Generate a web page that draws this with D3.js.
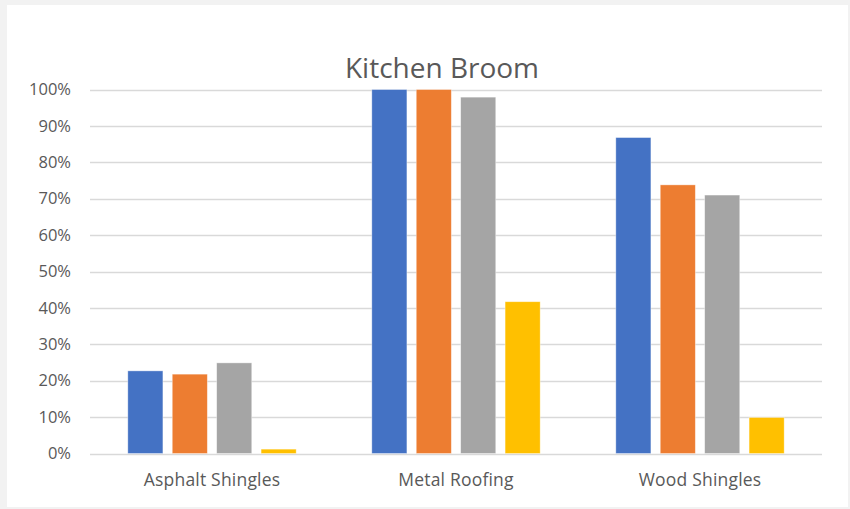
<!DOCTYPE html>
<html><head><meta charset="utf-8">
<script src="https://cdn.jsdelivr.net/npm/d3@7"></script>
<style>html,body{margin:0;padding:0;background:#f2f2f2;}svg{display:block;}</style>
</head><body>
<svg id="chart" width="850" height="509"></svg>
<script>
const categories = ["Asphalt Shingles", "Metal Roofing", "Wood Shingles"];
const seriesNames = ["Series1", "Series2", "Series3", "Series4"];
const series1 = [22.7, 100, 86.8];
const series2 = [21.8, 100, 73.8];
const series3 = [24.9, 97.9, 71.0];
const series4 = [1.2, 41.7, 9.9];
const yTicks = [0, 10, 20, 30, 40, 50, 60, 70, 80, 90, 100];
const colors = ["#4472C4", "#ED7D31", "#A5A5A5", "#FFC000"];
const title = "Kitchen Broom";

const allSeries = [series1, series2, series3, series4];
const svg = d3.select("#chart");
svg.append("rect").attr("x", 7).attr("y", 5).attr("width", 841).attr("height", 502).attr("fill", "#fff");

const pLeft = 90, pRight = 822, pTop = 89.5, pBottom = 453.5;
const y = d3.scaleLinear().domain([0, 100]).range([pBottom, pTop]);
const x0 = d3.scaleBand().domain(categories).range([pLeft, pRight]).paddingInner(0.31).paddingOuter(0.155);
const x1 = d3.scaleBand().domain(seriesNames).range([0, x0.bandwidth()]).paddingInner(0.21).paddingOuter(0);

const font = "'Segoe UI', 'Open Sans', sans-serif";

// gridlines
svg.append("g").selectAll("line").data(yTicks).join("line")
  .attr("x1", pLeft).attr("x2", pRight)
  .attr("y1", d => Math.round(y(d)) + 0.5).attr("y2", d => Math.round(y(d)) + 0.5)
  .attr("stroke", "#d9d9d9").attr("stroke-width", 1.5);

// y labels
const yAxis = d3.axisLeft(y).tickValues(yTicks).tickFormat(d => d + "%").tickSize(0).tickPadding(19);
const ya = svg.append("g").attr("transform", `translate(${pLeft},0)`).call(yAxis);
ya.select(".domain").remove();
ya.selectAll("text").attr("fill", "#595959").style("font-family", font).style("font-size", "16.5px");

// bars
const groups = svg.append("g").selectAll("g").data(categories).join("g")
  .attr("transform", d => `translate(${x0(d)},0)`);
groups.selectAll("rect").data((c, i) => seriesNames.map((s, j) => ({s, v: allSeries[j][i], c: colors[j]})))
  .join("rect")
  .attr("x", d => x1(d.s)).attr("width", x1.bandwidth())
  .attr("y", d => y(d.v)).attr("height", d => y(0) - y(d.v))
  .attr("fill", d => d.c).attr("stroke", "#fff").attr("stroke-opacity", 0.5).attr("stroke-width", 0.75);

// x labels
const xAxis = d3.axisBottom(x0).tickSize(0).tickPadding(20);
const xa = svg.append("g").attr("transform", `translate(0,${pBottom})`).call(xAxis);
xa.select(".domain").remove();
xa.selectAll("text").attr("fill", "#595959").style("font-family", font).style("font-size", "17.5px").style("letter-spacing", "0.2px");

// title
svg.append("text").attr("x", 442).attr("y", 78).attr("text-anchor", "middle")
  .attr("fill", "#595959").style("font-family", font).style("font-size", "28px").text(title);
</script>
</body></html>
